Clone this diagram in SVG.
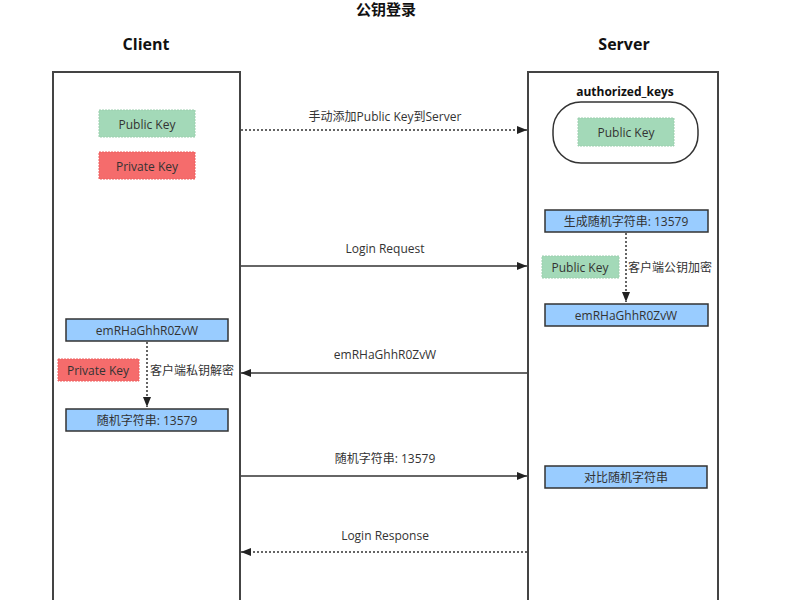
<svg xmlns="http://www.w3.org/2000/svg" width="800" height="600" viewBox="0 0 800 600">
<defs>
<marker id="arr" viewBox="0 0 10 10" refX="10" refY="5" markerWidth="10" markerHeight="10" markerUnits="userSpaceOnUse" orient="auto">
<path d="M0,1 L10,5 L0,9 z" fill="#222"/>
</marker>
<style>
text{font-family:"Open Sans","Noto Sans","Noto Sans CJK SC",sans-serif;fill:#333;text-anchor:middle;dominant-baseline:central}
.h{font-weight:bold;fill:#111}
.s{font-size:12px}
.lane{fill:#fff;stroke:#444;stroke-width:2}
.green{fill:#a3d9b8;stroke:#9ccfae;stroke-dasharray:2 1}
.red{fill:#f56c6c;stroke:#ee5f5f;stroke-dasharray:2 1}
.blue{fill:#99ccff;stroke:#333;stroke-width:1.5}
.line{stroke:#333;stroke-width:1.5;fill:none}
.dot{stroke:#333;stroke-width:1.5;fill:none;stroke-dasharray:2 2}
</style>
</defs>
<rect width="800" height="600" fill="#fff"/>
<text class="h" x="386" y="9" font-size="15">公钥登录</text>
<g id="client">
<text class="h" x="146" y="44" font-size="16">Client</text>
<rect class="lane" x="53" y="72" width="187" height="540"/>
</g>
<g id="server">
<text class="h" x="624" y="44" font-size="16">Server</text>
<rect class="lane" x="528" y="72" width="190" height="540"/>
</g>
<g id="client-public-key"><rect class="green" x="99" y="110" width="96" height="27"/><text class="s" x="147" y="124">Public Key</text></g>
<g id="client-private-key"><rect class="red" x="99" y="152" width="96" height="27"/><text class="s" x="147" y="166">Private Key</text></g>
<g id="authorized-keys">
<text class="h" x="625" y="91" font-size="12">authorized_keys</text>
<rect x="553" y="102" width="145" height="61" rx="28" fill="#fff" stroke="#333" stroke-width="1.5"/>
</g>
<g id="server-public-key"><rect class="green" x="578" y="118" width="96" height="28"/><text class="s" x="626" y="132">Public Key</text></g>
<g id="gen-random"><rect class="blue" x="545" y="210" width="163" height="22"/><text class="s" x="626" y="221">生成随机字符串: 13579</text></g>
<g id="server-enc-key"><rect class="green" x="542" y="256" width="77" height="22"/><text class="s" x="580" y="267">Public Key</text></g>
<g id="server-cipher"><rect class="blue" x="545" y="304" width="163" height="22"/><text class="s" x="626" y="315">emRHaGhhR0ZvW</text></g>
<g id="client-cipher"><rect class="blue" x="66" y="319" width="162" height="22"/><text class="s" x="147" y="330">emRHaGhhR0ZvW</text></g>
<g id="client-dec-key"><rect class="red" x="58" y="359" width="81" height="22"/><text class="s" x="98" y="370">Private Key</text></g>
<g id="client-random"><rect class="blue" x="66" y="409" width="162" height="22"/><text class="s" x="147" y="420">随机字符串: 13579</text></g>
<g id="compare"><rect class="blue" x="545" y="466" width="162" height="22"/><text class="s" x="626" y="477">对比随机字符串</text></g>
<g id="connectors">
<line class="dot" x1="241" y1="130" x2="527" y2="130" marker-end="url(#arr)"/>
<text class="s" x="385" y="116">手动添加Public Key到Server</text>
<line class="line" x1="241" y1="266" x2="527" y2="266" marker-end="url(#arr)"/>
<text class="s" x="385" y="248">Login Request</text>
<line class="dot" x1="626" y1="233" x2="626" y2="302" marker-end="url(#arr)"/>
<text class="s" x="670" y="267">客户端公钥加密</text>
<line class="line" x1="527" y1="373" x2="241" y2="373" marker-end="url(#arr)"/>
<text class="s" x="385" y="354">emRHaGhhR0ZvW</text>
<line class="dot" x1="147" y1="342" x2="147" y2="407" marker-end="url(#arr)"/>
<text class="s" x="192" y="370">客户端私钥解密</text>
<line class="line" x1="241" y1="476" x2="527" y2="476" marker-end="url(#arr)"/>
<text class="s" x="385" y="458">随机字符串: 13579</text>
<line class="dot" x1="527" y1="552" x2="241" y2="552" marker-end="url(#arr)"/>
<text class="s" x="385" y="535">Login Response</text>
</g>
</svg>
